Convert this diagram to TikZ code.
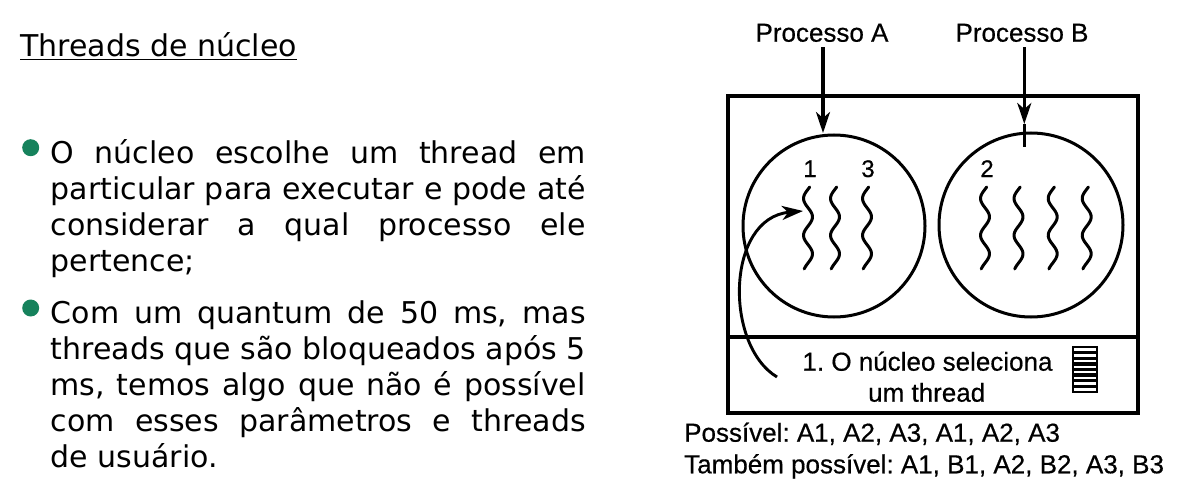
\documentclass[tikz,border=0pt]{standalone}
\usepackage{fontspec}
\setmainfont{DejaVu Sans}
\newfontface\lib{Liberation Sans}[FakeBold=0.5]
\usetikzlibrary{arrows.meta}
\definecolor{bulletgreen}{RGB}{22,130,92}
\tikzset{
  bodyline/.style={anchor=base west, inner sep=0pt, font=\fontsize{30}{36}\selectfont},
  dot/.style={circle, fill=bulletgreen, inner sep=0pt, minimum size=17pt},
  lab/.style={anchor=base, inner sep=0pt, font=\lib\fontsize{26}{31}\selectfont},
  numlab/.style={anchor=base, inner sep=0pt, font=\lib\fontsize{24}{28}\selectfont},
  proc/.style={circle, draw, line width=3pt, inner sep=0pt},
  frame/.style={line width=3.2pt},
  squig/.style={line width=3pt, line cap=round},
  arr/.style={line width=3.1pt, -{Stealth[length=21pt, width=14pt, inset=6pt]}},
}
\newcommand{\jline}[1]{\makebox[535pt][s]{#1}}
\begin{document}
\frenchspacing
\begin{tikzpicture}[x=1pt, y=-1pt]
\useasboundingbox (0,0) rectangle (1187,487);
% ---- left text ----
\node[bodyline] (title) at (20,57) {Threads de núcleo};
\draw[line width=1.8pt] ([yshift=-2.5pt]title.base west) -- ([yshift=-2.5pt]title.base east);
\node[dot] (d1) at (30.7,147.7) {};
\node[bodyline] (l1) at (50.5,163) {\jline{O núcleo escolhe um thread em}};
\node[bodyline] (l2) at (50.5,199) {\jline{particular para executar e pode até}};
\node[bodyline] (l3) at (50.5,235) {\jline{considerar a qual processo ele}};
\node[bodyline] (l4) at (50.5,271) {pertence;};
\node[dot] (d2) at (30.7,308) {};
\node[bodyline] (m1) at (50.5,323) {\jline{Com um quantum de 50 ms, mas}};
\node[bodyline] (m2) at (50.5,359) {\jline{threads que são bloqueados após 5}};
\node[bodyline] (m3) at (50.5,395) {\jline{ms, temos algo que não é possível}};
\node[bodyline] (m4) at (50.5,431) {\jline{com esses parâmetros e threads}};
\node[bodyline] (m5) at (50.5,467) {de usuário.};
% ---- diagram ----
\draw[frame] (728,96) rectangle (1138,413);
\draw[frame] (728,337) -- (1138,337);
\node[proc, minimum size=182pt] (cA) at (834,226) {};
\node[proc, minimum size=184pt] (cB) at (1031,225) {};
\node[lab] (pA) at (822,41.7) {Processo A};
\node[lab] (pB) at (1022,41.7) {Processo B};
\coordinate (aTip) at (823,133);
\coordinate (bTip) at (1024.3,124);
\coordinate (bEnd) at (1024.3,147);
\draw[arr] (pA.south -| aTip) ++(0,5) -- (aTip);
\draw[arr] (pB.south -| bTip) ++(0,5) -- (bTip);
\draw[line width=3.1pt] (bTip) -- (bEnd);
\node[numlab] (n1) at (810,177) {1};
\node[numlab] (n3) at (868,177) {3};
\node[numlab] (n2) at (987,177) {2};
\foreach \cx in {808,835,867,985,1018.5,1052.7,1086.7}{
  \draw[squig] plot[smooth, domain=0:1, samples=41, variable=\t]
    ({\cx - 4.5*cos(800*\t - 112)}, {187 + 82*\t});
}
\node[lab] (k1) at (927.5,370.7) {1. O núcleo seleciona};
\node[lab] (k2) at (926.7,401.7) {um thread};
\coordinate (cStart) at (777,377);
\coordinate (cEnd) at (803,211);
\draw[arr, line width=2.9pt] (cStart) .. controls (724,345) and (726,218) .. (cEnd);
% queue icon
\draw[line width=2.8pt] (1073,347) rectangle (1097,392);
\foreach \k in {1,...,7}{
  \draw[line width=3.4pt] (1073,{347+\k*45/8}) -- (1097,{347+\k*45/8});
}
\node[lab, anchor=base west] (q1) at (684,441.7) {Possível: A1, A2, A3, A1, A2, A3};
\node[lab, anchor=base west] (q2) at (684,473.3) {Também possível: A1, B1, A2, B2, A3, B3};
\end{tikzpicture}
\end{document}
